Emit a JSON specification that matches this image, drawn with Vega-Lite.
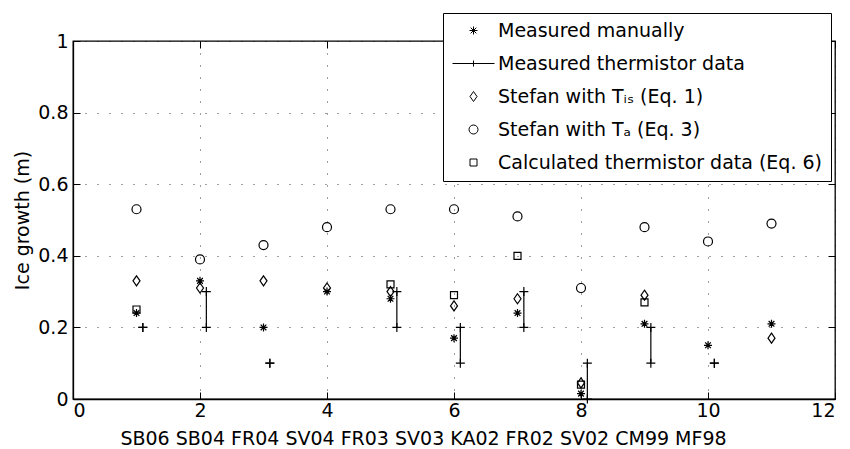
{
  "$schema": "https://vega.github.io/schema/vega-lite/v6.json",
  "width": 762,
  "height": 358,
  "autosize": {"type": "none"},
  "padding": {"left": 73, "top": 41, "right": 15, "bottom": 50},
  "config": {
    "font": "DejaVu Sans",
    "background": "#ffffff",
    "view": {"stroke": "#000000", "strokeWidth": 1.3},
    "axis": {
      "labelFont": "DejaVu Sans",
      "labelFontSize": 19,
      "labelColor": "#000000",
      "titleFont": "DejaVu Sans",
      "titleFontSize": 19,
      "titleFontWeight": "normal",
      "titleColor": "#000000",
      "domainColor": "#000000",
      "domainWidth": 1.3,
      "tickColor": "#000000",
      "tickSize": -7,
      "tickWidth": 1,
      "gridColor": "#000000",
      "gridOpacity": 0.75,
      "gridDash": [1, 11],
      "gridWidth": 1
    }
  },
  "resolve": {"axis": {"x": "independent", "y": "independent"}},
  "datasets": {
    "pts": [
      {"x": 1, "v": 0.24, "series": "Measured manually"},
      {"x": 2, "v": 0.33, "series": "Measured manually"},
      {"x": 3, "v": 0.20, "series": "Measured manually"},
      {"x": 4, "v": 0.30, "series": "Measured manually"},
      {"x": 5, "v": 0.28, "series": "Measured manually"},
      {"x": 6, "v": 0.17, "series": "Measured manually"},
      {"x": 7, "v": 0.24, "series": "Measured manually"},
      {"x": 8, "v": 0.015, "series": "Measured manually"},
      {"x": 9, "v": 0.21, "series": "Measured manually"},
      {"x": 10, "v": 0.15, "series": "Measured manually"},
      {"x": 11, "v": 0.21, "series": "Measured manually"},
      {"x": 1, "v": 0.33, "series": "Stefan with Tᵢₛ (Eq. 1)"},
      {"x": 2, "v": 0.31, "series": "Stefan with Tᵢₛ (Eq. 1)"},
      {"x": 3, "v": 0.33, "series": "Stefan with Tᵢₛ (Eq. 1)"},
      {"x": 4, "v": 0.31, "series": "Stefan with Tᵢₛ (Eq. 1)"},
      {"x": 5, "v": 0.30, "series": "Stefan with Tᵢₛ (Eq. 1)"},
      {"x": 6, "v": 0.26, "series": "Stefan with Tᵢₛ (Eq. 1)"},
      {"x": 7, "v": 0.28, "series": "Stefan with Tᵢₛ (Eq. 1)"},
      {"x": 8, "v": 0.045, "series": "Stefan with Tᵢₛ (Eq. 1)"},
      {"x": 9, "v": 0.29, "series": "Stefan with Tᵢₛ (Eq. 1)"},
      {"x": 11, "v": 0.17, "series": "Stefan with Tᵢₛ (Eq. 1)"},
      {"x": 1, "v": 0.53, "series": "Stefan with Tₐ (Eq. 3)"},
      {"x": 2, "v": 0.39, "series": "Stefan with Tₐ (Eq. 3)"},
      {"x": 3, "v": 0.43, "series": "Stefan with Tₐ (Eq. 3)"},
      {"x": 4, "v": 0.48, "series": "Stefan with Tₐ (Eq. 3)"},
      {"x": 5, "v": 0.53, "series": "Stefan with Tₐ (Eq. 3)"},
      {"x": 6, "v": 0.53, "series": "Stefan with Tₐ (Eq. 3)"},
      {"x": 7, "v": 0.51, "series": "Stefan with Tₐ (Eq. 3)"},
      {"x": 8, "v": 0.31, "series": "Stefan with Tₐ (Eq. 3)"},
      {"x": 9, "v": 0.48, "series": "Stefan with Tₐ (Eq. 3)"},
      {"x": 10, "v": 0.44, "series": "Stefan with Tₐ (Eq. 3)"},
      {"x": 11, "v": 0.49, "series": "Stefan with Tₐ (Eq. 3)"},
      {"x": 1, "v": 0.25, "series": "Calculated thermistor data (Eq. 6)"},
      {"x": 5, "v": 0.32, "series": "Calculated thermistor data (Eq. 6)"},
      {"x": 6, "v": 0.29, "series": "Calculated thermistor data (Eq. 6)"},
      {"x": 7, "v": 0.40, "series": "Calculated thermistor data (Eq. 6)"},
      {"x": 8, "v": 0.04, "series": "Calculated thermistor data (Eq. 6)"},
      {"x": 9, "v": 0.27, "series": "Calculated thermistor data (Eq. 6)"}
    ],
    "therm": [
      {"x": 1.1, "lo": 0.2, "hi": 0.2},
      {"x": 2.1, "lo": 0.2, "hi": 0.3},
      {"x": 3.1, "lo": 0.1, "hi": 0.1},
      {"x": 5.1, "lo": 0.2, "hi": 0.3},
      {"x": 6.1, "lo": 0.1, "hi": 0.2},
      {"x": 7.1, "lo": 0.2, "hi": 0.3},
      {"x": 8.1, "lo": 0.0, "hi": 0.1},
      {"x": 9.1, "lo": 0.1, "hi": 0.2},
      {"x": 10.1, "lo": 0.1, "hi": 0.1}
    ]
  },
  "layer": [
    {
      "data": {"name": "therm"},
      "mark": {"type": "rule", "color": "#000000", "strokeWidth": 1.2},
      "encoding": {
        "x": {
          "field": "x",
          "type": "quantitative",
          "scale": {"domain": [0, 12], "nice": false, "zero": false},
          "axis": {
            "values": [0, 2, 4, 6, 8, 10, 12],
            "title": "SB06 SB04 FR04 SV04 FR03 SV03 KA02 FR02 SV02 CM99 MF98",
            "titleX": 350,
            "titleY": 39,
            "titleBaseline": "middle",
            "titleAlign": "center",
            "labelPadding": 9
          }
        },
        "y": {
          "field": "lo",
          "type": "quantitative",
          "scale": {"domain": [0, 1], "nice": false},
          "axis": {
            "values": [0, 0.2, 0.4, 0.6, 0.8, 1],
            "format": ".1~f",
            "title": "Ice growth (m)",
            "titlePadding": 5,
            "labelPadding": 12
          }
        },
        "y2": {"field": "hi"}
      }
    },
    {
      "data": {"name": "therm"},
      "mark": {"type": "point", "shape": "M-1,0H1M0,-1V1", "size": 81, "filled": false, "color": "#000000", "strokeWidth": 1.2, "opacity": 1},
      "encoding": {
        "x": {
          "field": "x",
          "type": "quantitative",
          "axis": {"orient": "top", "values": [0, 2, 4, 6, 8, 10, 12], "labels": false, "title": null, "grid": false, "domain": false}
        },
        "y": {
          "field": "lo",
          "type": "quantitative",
          "axis": {"orient": "right", "values": [0, 0.2, 0.4, 0.6, 0.8, 1], "labels": false, "title": null, "grid": false, "domain": false}
        }
      }
    },
    {
      "data": {"name": "therm"},
      "mark": {"type": "point", "shape": "M-1,0H1M0,-1V1", "size": 81, "filled": false, "color": "#000000", "strokeWidth": 1.2, "opacity": 1},
      "encoding": {
        "x": {"field": "x", "type": "quantitative", "axis": null},
        "y": {"field": "hi", "type": "quantitative", "axis": null}
      }
    },
    {
      "data": {"name": "pts"},
      "mark": {"type": "point", "size": 100, "filled": false, "color": "#000000", "strokeWidth": 1.2, "opacity": 1},
      "encoding": {
        "x": {"field": "x", "type": "quantitative", "axis": null},
        "y": {"field": "v", "type": "quantitative", "axis": null},
        "shape": {
          "field": "series",
          "type": "nominal",
          "scale": {
            "domain": ["Measured manually", "Measured thermistor data", "Stefan with Tᵢₛ (Eq. 1)", "Stefan with Tₐ (Eq. 3)", "Calculated thermistor data (Eq. 6)"],
            "range": [
              "M-0.8,0H0.8M0,-0.8V0.8M-0.57,-0.57L0.57,0.57M-0.57,0.57L0.57,-0.57",
              "M-4.2,0H4.2M0,-0.6V0.6",
              "M0,-1L0.7,0L0,1L-0.7,0Z",
              "M0.9,0A0.9,0.9,0,1,1,-0.9,0A0.9,0.9,0,1,1,0.9,0Z",
              "M-0.7,-0.7H0.7V0.7H-0.7Z"
            ]
          },
          "legend": {
            "title": null,
            "orient": "none",
            "legendX": 370,
            "legendY": -28,
            "direction": "vertical",
            "fillColor": "#ffffff",
            "strokeColor": "#000000",
            "cornerRadius": 0,
            "padding": 8,
            "rowPadding": 13,
            "symbolSize": 100,
            "symbolOffset": 13,
            "symbolStrokeColor": "#000000",
            "symbolFillColor": "transparent",
            "symbolStrokeWidth": 1,
            "labelOffset": 15,
            "labelFont": "DejaVu Sans",
            "labelFontSize": 19,
            "labelColor": "#000000",
            "labelLimit": 400
          }
        }
      }
    }
  ]
}
